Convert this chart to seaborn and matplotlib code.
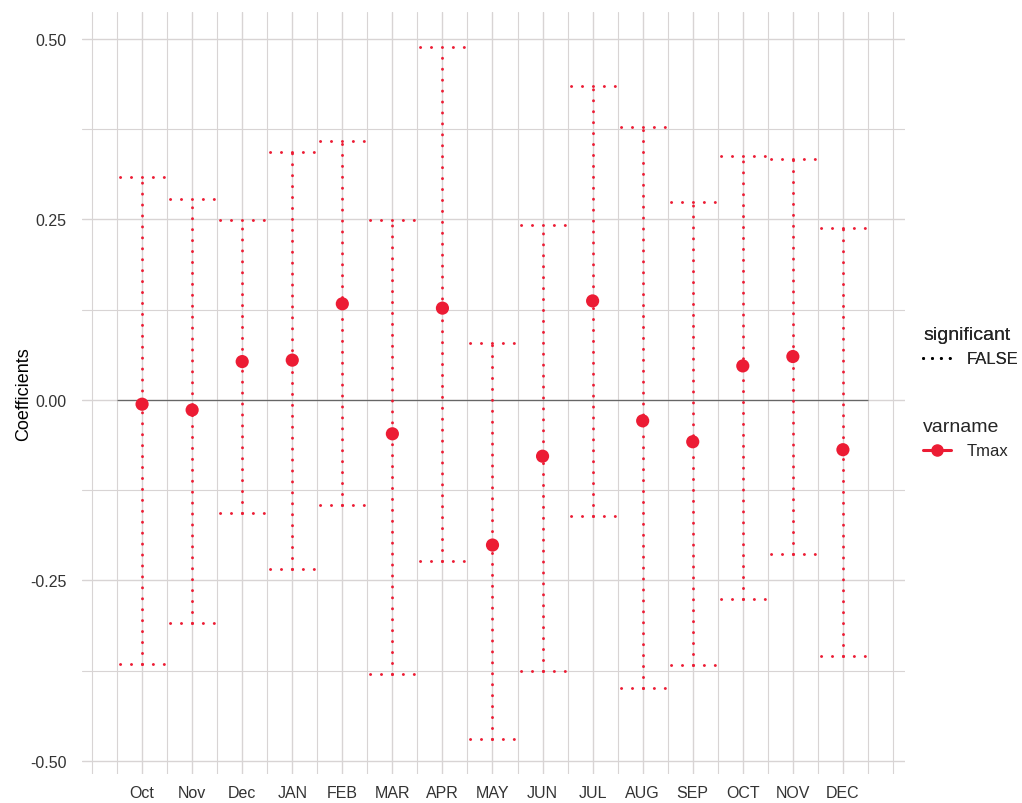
import numpy as np
import pandas as pd
import seaborn as sns
import matplotlib.pyplot as plt
from matplotlib.lines import Line2D
from matplotlib.ticker import MultipleLocator

# 월별 계수와 신뢰구간
months = ['Oct', 'Nov', 'Dec', 'JAN', 'FEB', 'MAR', 'APR', 'MAY',
          'JUN', 'JUL', 'AUG', 'SEP', 'OCT', 'NOV', 'DEC']
coef = [-0.006, -0.014, 0.053, 0.055, 0.133, -0.047, 0.127, -0.201,
        -0.078, 0.137, -0.029, -0.058, 0.047, 0.060, -0.069]
upper = [0.309, 0.278, 0.249, 0.343, 0.359, 0.249, 0.489, 0.079,
         0.242, 0.434, 0.378, 0.274, 0.337, 0.334, 0.238]
lower = [-0.366, -0.309, -0.157, -0.234, -0.145, -0.380, -0.223, -0.470,
         -0.375, -0.161, -0.399, -0.367, -0.276, -0.213, -0.355]
y_ticks = [-0.50, -0.25, 0.00, 0.25, 0.50]

df = pd.DataFrame({'month': months, 'coef': coef, 'upper': upper, 'lower': lower})
df['pos'] = np.arange(len(df))

sns.set_theme(style='white')
plt.rcParams['font.family'] = ['Liberation Sans', 'DejaVu Sans']

RED = '#ec1c34'
GRID = '#d8d4d4'
LW = 2.1
dots = (0, (0.05, 3.7))  # 선폭 기준: 점 ~3px, 간격 ~10px

fig = plt.figure(figsize=(10.22, 8.04), dpi=100)
ax = fig.add_axes([82 / 1022, 1 - 775 / 804, (905 - 82) / 1022, (775 - 13) / 804])

# 오차 막대 (점선) + 캡
kw = dict(colors=RED, linestyles=dots, linewidth=LW, capstyle='round', zorder=3)
ax.vlines(df['pos'], df['lower'], df['upper'], **kw)
ax.hlines(df['upper'], df['pos'] - 0.44, df['pos'] + 0.44, **kw)
ax.hlines(df['lower'], df['pos'] - 0.44, df['pos'] + 0.44, **kw)

ax.hlines(0, -0.5, len(df) - 0.5, colors='#666666', linewidth=0.9, zorder=2)

sns.scatterplot(data=df, x='pos', y='coef', color=RED, s=90, edgecolor='none', zorder=4, ax=ax, legend=False)

ax.set_xlim(-1.2, 15.24)
ax.set_ylim(-0.518, 0.537)
ax.set_xticks(df['pos'])
ax.set_xticklabels(months)
ax.xaxis.set_minor_locator(MultipleLocator(0.5))
ax.set_yticks(y_ticks)
ax.set_yticklabels([f'{v:.2f}' for v in y_ticks])
ax.yaxis.set_minor_locator(MultipleLocator(0.125))
ax.grid(True, which='major', color=GRID, linewidth=1.0, zorder=0)
ax.grid(True, which='minor', color=GRID, linewidth=0.8, zorder=0)
ax.set_axisbelow(True)
for s in ax.spines.values():
    s.set_visible(False)
ax.tick_params(axis='both', which='both', length=0, labelsize=11.5, colors='#333333')
ax.tick_params(axis='y', pad=11)
ax.tick_params(axis='x', pad=8)
ax.set_xlabel('')
ax.set_ylabel('Coefficients', fontsize=13, color='black')
ax.yaxis.set_label_coords((32 - 82) / 823, 0.5)

# 범례
h1 = [Line2D([0], [0], color='black', linestyle=(0, (0.05, 3.0)), linewidth=LW, dash_capstyle='round')]
h2 = [Line2D([0], [0], color=RED, marker='o', markersize=8, linewidth=2.2)]
leg_kw = dict(loc='upper left', frameon=False, fontsize=12, title_fontsize=14,
              handlelength=1.7, handletextpad=0.9, alignment='left')
leg1 = fig.legend(h1, ['FALSE'], title='significant',
                  bbox_to_anchor=(908 / 1022, 1 - 312 / 804), **leg_kw)
fig.add_artist(leg1)
fig.legend(h2, ['Tmax'], title='varname',
           bbox_to_anchor=(908 / 1022, 1 - 404 / 804), **leg_kw)

fig.savefig('out.png', dpi=100)
